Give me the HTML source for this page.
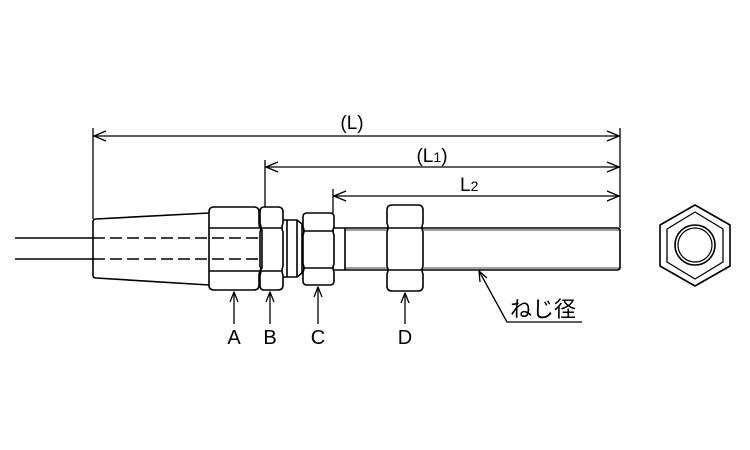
<!DOCTYPE html>
<html><head><meta charset="utf-8"><style>
html,body{margin:0;padding:0;background:#fff;width:750px;height:450px;overflow:hidden}
svg{display:block}
text{font-family:"Liberation Sans","Noto Sans CJK JP",sans-serif;fill:#000}
</style></head><body>
<svg width="750" height="450" viewBox="0 0 750 450" xmlns="http://www.w3.org/2000/svg">
<g fill="none" stroke="#000" stroke-width="1.6" stroke-linejoin="round">
<!-- extension lines -->
<line x1="93" y1="128" x2="93" y2="219" stroke-width="1.3"/>
<line x1="265" y1="160" x2="265" y2="207" stroke-width="1.3"/>
<line x1="333" y1="189" x2="333" y2="213" stroke-width="1.3"/>
<line x1="620" y1="128" x2="620" y2="228" stroke-width="1.3"/>
<!-- dimension lines -->
<line x1="93" y1="136" x2="620" y2="136" stroke-width="1.3"/>
<line x1="265" y1="167" x2="620" y2="167" stroke-width="1.3"/>
<line x1="333" y1="196" x2="620" y2="196" stroke-width="1.3"/>
<path d="M106 131 L94 136 L106 141 M607 131 L619 136 L607 141" stroke-width="1.3"/>
<path d="M278 162 L266 167 L278 172 M607 162 L619 167 L607 172" stroke-width="1.3"/>
<path d="M346 191 L334 196 L346 201 M607 191 L619 196 L607 201" stroke-width="1.3"/>
<!-- tube -->
<line x1="15" y1="238" x2="93" y2="238"/>
<line x1="15" y1="259" x2="93" y2="259"/>
<line x1="93" y1="238" x2="262" y2="238" stroke-dasharray="12,5"/>
<line x1="93" y1="259" x2="262" y2="259" stroke-dasharray="12,5"/>
<!-- taper -->
<path d="M209 213 L96 219 Q93 219 93 222 L93 275 Q93 278 96 278 L209 285"/>
<!-- nut A -->
<path d="M214 207 L254 207 Q259 207 259 212 L259 223 Q259 228 262 230 L262 268 Q259 271 259 276 L259 285 Q259 290 254 290 L214 290 Q209 290 209 285 L209 276 Q209 271 209 268 L209 230 Q209 228 209 223 L209 212 Q209 207 214 207 Z"/>
<line x1="209" y1="228" x2="260" y2="228"/>
<line x1="209" y1="271" x2="260" y2="271"/>
<!-- nut B -->
<path d="M264 207 L278 207 Q283 207 283 212 L283 223 Q281 228 283 232 L283 266 Q281 271 283 275 L283 285 Q283 290 278 290 L264 290 Q260 290 260 285 L260 275 Q262 271 260 266 L260 232 Q262 228 260 223 L260 212 Q260 207 264 207 Z"/>
<line x1="261" y1="228" x2="282" y2="228"/>
<line x1="261" y1="271" x2="282" y2="271"/>
<!-- body -->
<path d="M283 220 L297 220 L302 224 L302 273 L297 277 L283 277"/>
<line x1="287" y1="220" x2="287" y2="277"/>
<line x1="297" y1="220" x2="297" y2="277"/>
<!-- nut C -->
<path d="M307 213 L330 213 Q334 213 334 217 L334 227 Q332 231 334 235 L334 264 Q332 268 334 272 L334 281 Q334 285 330 285 L307 285 Q303 285 303 281 L303 272 Q305 268 303 264 L303 235 Q305 231 303 227 L303 217 Q303 213 307 213 Z"/>
<line x1="303" y1="231" x2="334" y2="231"/>
<line x1="303" y1="268" x2="334" y2="268"/>
<!-- rod -->
<path d="M334 228 L617 228 Q620 228 620 231 L620 267 Q620 270 617 270 L334 270"/>
<line x1="345" y1="228" x2="345" y2="270"/>
<line x1="345" y1="230" x2="620" y2="230" stroke-width="0.8"/>
<line x1="345" y1="268" x2="620" y2="268" stroke-width="0.8"/>
<!-- nut D -->
<path d="M392 205 L418 205 Q423 205 423 210 L423 223 Q421 228 423 232 L423 266 Q421 270 423 274 L423 286 Q423 291 418 291 L392 291 Q387 291 387 286 L387 274 Q389 270 387 266 L387 232 Q389 228 387 223 L387 210 Q387 205 392 205 Z" fill="#fff"/>
<line x1="387" y1="228" x2="423" y2="228"/>
<line x1="387" y1="270" x2="423" y2="270"/>
<!-- arrows -->
<g stroke-width="1.3">
<line x1="234" y1="324" x2="234" y2="292"/><path d="M230 302 L234 292 L238 302"/>
<line x1="270" y1="324" x2="270" y2="292"/><path d="M266 302 L270 292 L274 302"/>
<line x1="318" y1="324" x2="318" y2="287"/><path d="M314 297 L318 287 L322 297"/>
<line x1="405" y1="324" x2="405" y2="293"/><path d="M401 303 L405 293 L409 303"/>
<path d="M582 322 L507 322 L479 271"/><path d="M480 282 L479 271 L487 278"/>
</g>
<!-- hex end view -->
<polygon points="695,205 730,225 730,266 695,286 660,266 660,225"/>
<polygon points="695,212 723,229 723,262 695,279 667,262 667,229" stroke-width="1.3"/>
<circle cx="695" cy="245" r="20"/>
<circle cx="695" cy="245" r="17" stroke-width="1.2"/>
</g>
<text x="352" y="129" font-size="19" text-anchor="middle">(L)</text>
<text x="432" y="162" font-size="19" text-anchor="middle">(L<tspan font-size="14">1</tspan>)</text>
<text x="460" y="191" font-size="19">L<tspan font-size="14">2</tspan></text>
<text x="234" y="344" font-size="20" text-anchor="middle">A</text>
<text x="270" y="344" font-size="20" text-anchor="middle">B</text>
<text x="318" y="344" font-size="20" text-anchor="middle">C</text>
<text x="405" y="344" font-size="20" text-anchor="middle">D</text>
<text x="510" y="317" font-size="22">ねじ径</text>
</svg>
</body></html>
